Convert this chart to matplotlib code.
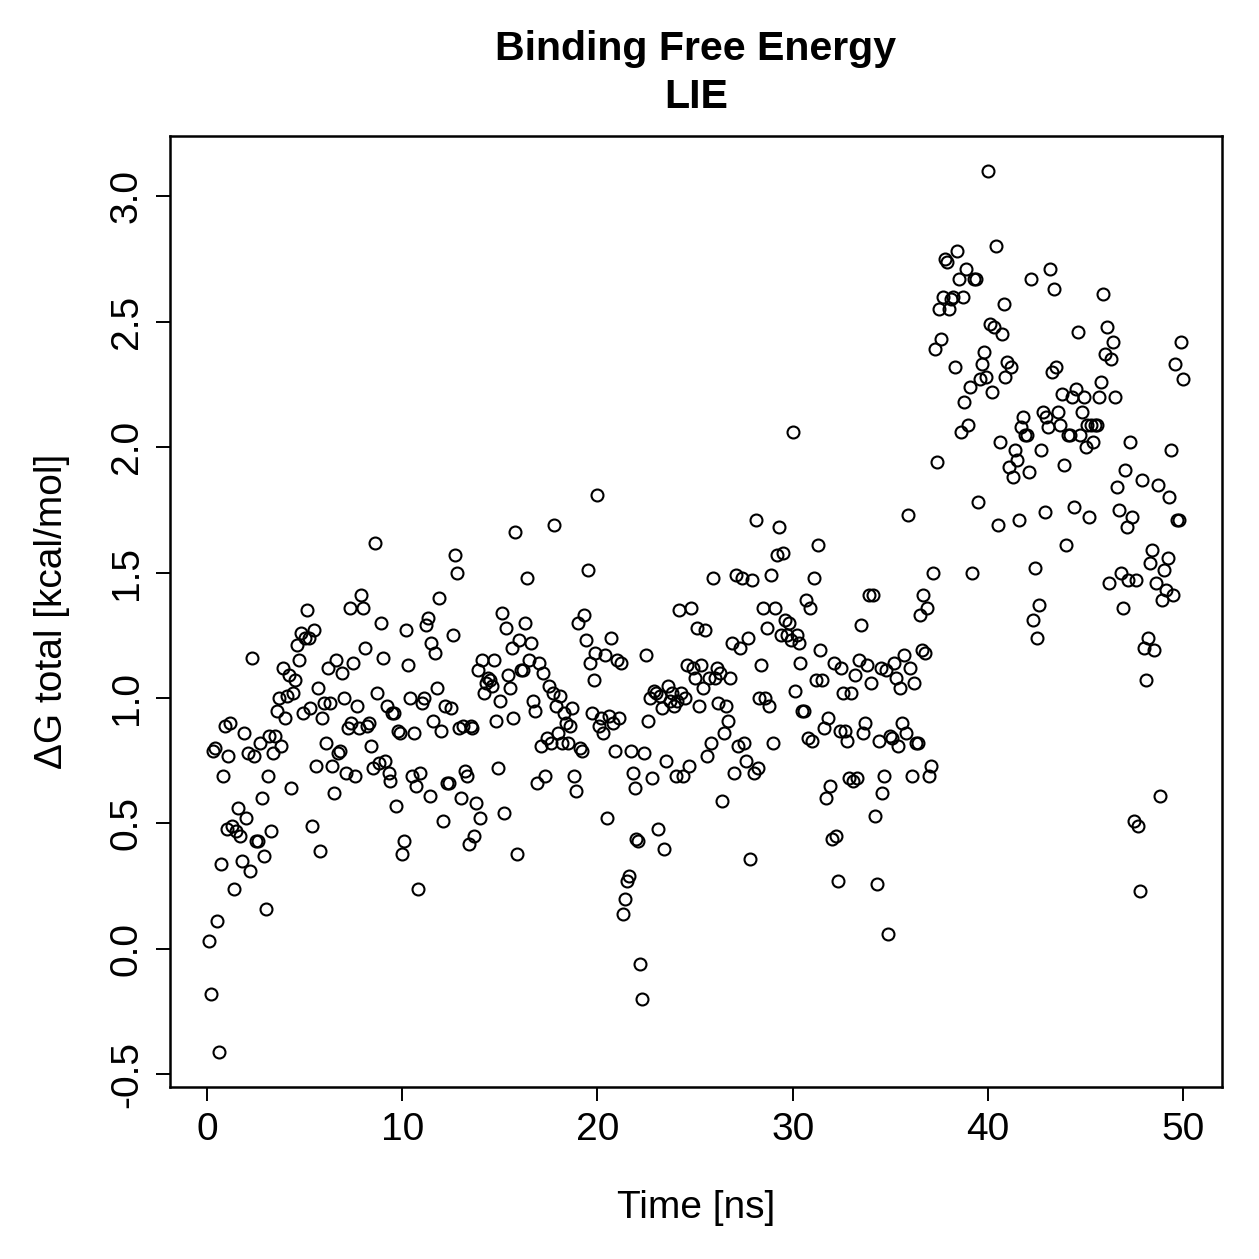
import numpy as np
import matplotlib
matplotlib.use('Agg')
import matplotlib.pyplot as plt

# dG total per 0.1 ns frame in 5 ns blocks
g_00_05 = [0.03, -0.18, 0.79, 0.80, 0.11, -0.41, 0.34, 0.69, 0.89, 0.48,
           0.77, 0.90, 0.49, 0.24, 0.47, 0.56, 0.45, 0.35, 0.86, 0.52,
           0.78, 0.31, 1.16, 0.77, 0.43, 0.43, 0.82, 0.60, 0.37, 0.16,
           0.69, 0.85, 0.47, 0.78, 0.85, 0.95, 1.00, 0.81, 1.12, 0.92,
           1.01, 1.09, 0.64, 1.02, 1.07, 1.21, 1.15, 1.26, 0.94, 1.24]
g_05_10 = [1.35, 1.24, 0.96, 0.49, 1.27, 0.73, 1.04, 0.39, 0.92, 0.98,
           0.82, 1.12, 0.98, 0.73, 0.62, 1.15, 0.78, 0.79, 1.10, 1.00,
           0.70, 0.88, 1.36, 0.90, 1.14, 0.69, 0.97, 0.88, 1.41, 1.36,
           1.20, 0.89, 0.90, 0.81, 0.72, 1.62, 1.02, 0.74, 1.30, 1.16,
           0.75, 0.97, 0.70, 0.67, 0.94, 0.94, 0.57, 0.87, 0.86, 0.38]
g_10_15 = [0.43, 1.27, 1.13, 1.00, 0.69, 0.86, 0.65, 0.24, 0.70, 0.98,
           1.00, 1.29, 1.32, 0.61, 1.22, 0.91, 1.18, 1.04, 1.40, 0.87,
           0.51, 0.97, 0.66, 0.66, 0.96, 1.25, 1.57, 1.50, 0.88, 0.60,
           0.89, 0.71, 0.69, 0.42, 0.89, 0.88, 0.45, 0.58, 1.11, 0.52,
           1.15, 1.02, 1.06, 1.08, 1.07, 1.05, 1.15, 0.91, 0.72, 0.99]
g_15_20 = [1.34, 0.54, 1.28, 1.09, 1.04, 1.20, 0.92, 1.66, 0.38, 1.23,
           1.11, 1.11, 1.30, 1.48, 1.15, 1.22, 0.99, 0.95, 0.66, 1.14,
           0.81, 1.10, 0.69, 0.84, 1.05, 0.82, 1.02, 1.69, 0.97, 0.86,
           1.01, 0.82, 0.94, 0.90, 0.82, 0.89, 0.96, 0.69, 0.63, 1.30,
           0.80, 0.79, 1.33, 1.23, 1.51, 1.14, 0.94, 1.07, 1.18, 1.81]
g_20_25 = [0.89, 0.92, 0.86, 1.17, 0.52, 0.93, 1.24, 0.90, 0.79, 1.15,
           0.92, 1.14, 0.14, 0.20, 0.27, 0.29, 0.79, 0.70, 0.64, 0.44,
           0.43, -0.06, -0.20, 0.78, 1.17, 0.91, 1.00, 0.68, 1.03, 1.02,
           0.48, 1.01, 0.96, 0.40, 0.75, 1.05, 0.99, 1.02, 0.97, 0.69,
           0.99, 1.35, 1.02, 0.69, 1.00, 1.13, 0.73, 1.36, 1.12, 1.08]
g_25_30 = [1.28, 0.97, 1.13, 1.04, 1.27, 0.77, 1.08, 0.82, 1.48, 1.08,
           1.12, 0.98, 1.10, 0.59, 0.86, 0.97, 0.91, 1.08, 1.22, 0.70,
           1.49, 0.81, 1.20, 1.48, 0.82, 0.75, 1.24, 0.36, 1.47, 0.70,
           1.71, 0.72, 1.00, 1.13, 1.36, 1.00, 1.28, 0.97, 1.49, 0.82,
           1.36, 1.57, 1.68, 1.25, 1.58, 1.31, 1.25, 1.30, 1.23, 2.06]
g_30_35 = [1.03, 1.25, 1.22, 1.14, 0.95, 0.95, 1.39, 0.84, 1.36, 0.83,
           1.48, 1.07, 1.61, 1.19, 1.07, 0.88, 0.60, 0.92, 0.65, 0.44,
           1.14, 0.45, 0.27, 0.87, 1.12, 1.02, 0.87, 0.83, 0.68, 1.02,
           0.67, 1.09, 0.68, 1.15, 1.29, 0.86, 0.90, 1.13, 1.41, 1.06,
           1.41, 0.53, 0.26, 0.83, 1.12, 0.62, 0.69, 1.11, 0.06, 0.85]
g_35_40 = [0.84, 1.14, 1.08, 0.81, 1.04, 0.90, 1.17, 0.86, 1.73, 1.12,
           0.69, 1.06, 0.82, 0.82, 1.33, 1.19, 1.41, 1.18, 1.36, 0.69,
           0.73, 1.50, 2.39, 1.94, 2.55, 2.43, 2.60, 2.75, 2.74, 2.55,
           2.59, 2.60, 2.32, 2.78, 2.67, 2.06, 2.60, 2.18, 2.71, 2.09,
           2.24, 1.50, 2.67, 2.67, 1.78, 2.27, 2.33, 2.38, 2.28, 3.10]
g_40_45 = [2.49, 2.22, 2.48, 2.80, 1.69, 2.02, 2.45, 2.57, 2.28, 2.34,
           1.92, 2.32, 1.88, 1.99, 1.95, 1.71, 2.08, 2.12, 2.05, 2.05,
           1.90, 2.67, 1.31, 1.52, 1.24, 1.37, 1.99, 2.14, 1.74, 2.12,
           2.08, 2.71, 2.30, 2.63, 2.32, 2.14, 2.09, 2.21, 1.93, 1.61,
           2.05, 2.05, 2.20, 1.76, 2.23, 2.46, 2.05, 2.14, 2.20, 2.00]
g_45_50 = [2.09, 1.72, 2.09, 2.02, 2.09, 2.09, 2.20, 2.26, 2.61, 2.37,
           2.48, 1.46, 2.35, 2.42, 2.20, 1.84, 1.75, 1.50, 1.36, 1.91,
           1.68, 1.47, 2.02, 1.72, 0.51, 1.47, 0.49, 0.23, 1.87, 1.20,
           1.07, 1.24, 1.54, 1.59, 1.19, 1.46, 1.85, 0.61, 1.39, 1.51,
           1.43, 1.56, 1.80, 1.99, 1.41, 2.33, 1.71, 1.71, 2.42, 2.27]

dg = np.array(g_00_05 + g_05_10 + g_10_15 + g_15_20 + g_20_25 +
              g_25_30 + g_30_35 + g_35_40 + g_40_45 + g_45_50)
frame_step_ns = 0.1
time = np.arange(1, len(dg) + 1) * frame_step_ns

x_ticks = [0, 10, 20, 30, 40, 50]
y_ticks = [-0.5, 0.0, 0.5, 1.0, 1.5, 2.0, 2.5, 3.0]

plt.rcParams['font.family'] = ['Liberation Sans', 'DejaVu Sans']

fig = plt.figure(figsize=(6.295, 6.295), dpi=200)
ax = fig.add_axes([0.135, 0.1366, 0.8357, 0.7554])

ax.plot(time, dg, linestyle='none', marker='o', markersize=4.3,
        markerfacecolor='none', markeredgecolor='black', markeredgewidth=0.75)

# R style: 4% padding around the data
def padded(lo, hi):
    d = (hi - lo) * 0.04
    return lo - d, hi + d

ax.set_xlim(*padded(time.min(), time.max()))
ax.set_ylim(*padded(dg.min(), dg.max()))

ax.set_xticks(x_ticks)
ax.set_yticks(y_ticks)
ax.set_xticklabels([str(t) for t in x_ticks])
ax.set_yticklabels(['%.1f' % v for v in y_ticks], rotation=90, va='center')
ax.tick_params(direction='out', length=5, width=0.7, labelsize=14, pad=4)
for s in ax.spines.values():
    s.set_linewidth(0.9)

ax.set_xlabel('Time [ns]', fontsize=14, labelpad=15)
ax.set_ylabel('ΔG total [kcal/mol]', fontsize=14, labelpad=14)
ax.set_title('Binding Free Energy\nLIE', fontsize=14.8, fontweight='bold',
             pad=10, linespacing=1.35)

fig.savefig('out.png', dpi=200)
